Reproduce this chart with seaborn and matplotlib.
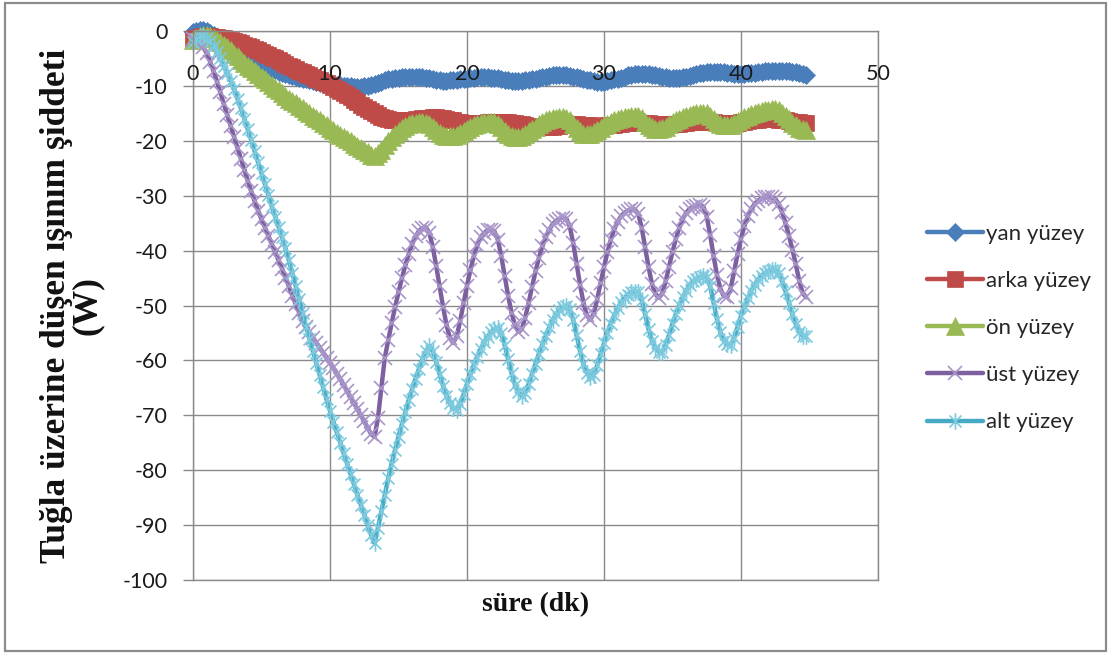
import numpy as np
import pandas as pd
import matplotlib
matplotlib.use("Agg")
import matplotlib.pyplot as plt
from matplotlib.path import Path
from matplotlib.patches import Rectangle
import seaborn as sns

# sampling step of the measurements (minutes)
ADIM = 0.25

seri_adlari = ["yan yüzey", "arka yüzey", "ön yüzey", "üst yüzey", "alt yüzey"]

yan_yuzey = [
    -0.2, 0.0, 0.2, 0.2, 0.0, -0.3, -0.7, -1.1,
    -1.5, -1.9, -2.3, -2.7, -3.1, -3.5, -3.9, -4.3,
    -4.7, -5.0, -5.4, -5.7, -6.0, -6.3, -6.6, -6.9,
    -7.1, -7.4, -7.6, -7.8, -8.0, -8.2, -8.4, -8.5,
    -8.7, -8.8, -9.0, -9.1, -9.3, -9.4, -9.5, -9.6,
    -9.7, -9.8, -9.9, -9.9, -10.0, -10.1, -10.1, -10.2,
    -10.2, -10.2, -10.1, -10.0, -9.8, -9.6, -9.4, -9.2,
    -9.0, -8.8, -8.7, -8.6, -8.5, -8.4, -8.3, -8.3,
    -8.3, -8.3, -8.4, -8.4, -8.5, -8.6, -8.8, -8.9,
    -9.0, -9.1, -9.1, -9.0, -9.0, -8.9, -8.8, -8.7,
    -8.7, -8.6, -8.5, -8.4, -8.4, -8.4, -8.4, -8.5,
    -8.5, -8.6, -8.8, -8.9, -9.0, -9.1, -9.1, -9.1,
    -9.1, -9.0, -8.9, -8.8, -8.7, -8.6, -8.4, -8.3,
    -8.2, -8.1, -8.0, -8.0, -8.0, -8.1, -8.2, -8.3,
    -8.4, -8.6, -8.7, -8.9, -9.0, -9.1, -9.2, -9.2,
    -9.2, -9.1, -9.0, -8.8, -8.7, -8.5, -8.3, -8.1,
    -8.0, -7.9, -7.8, -7.8, -7.8, -7.9, -8.0, -8.1,
    -8.2, -8.3, -8.4, -8.5, -8.6, -8.5, -8.5, -8.4,
    -8.3, -8.2, -8.0, -7.9, -7.7, -7.6, -7.5, -7.4,
    -7.4, -7.4, -7.5, -7.5, -7.6, -7.7, -7.8, -7.9,
    -7.9, -7.8, -7.7, -7.6, -7.6, -7.5, -7.4, -7.3,
    -7.2, -7.2, -7.2, -7.2, -7.2, -7.3, -7.3, -7.4,
    -7.5, -7.7, -7.8, -8.0,
]

arka_yuzey = [
    -1.5, -1.3, -1.1, -1.0, -1.0, -1.0, -1.1, -1.1,
    -1.2, -1.3, -1.5, -1.6, -1.8, -2.0, -2.2, -2.5,
    -2.8, -3.0, -3.3, -3.5, -3.8, -4.1, -4.4, -4.7,
    -5.0, -5.3, -5.6, -6.0, -6.3, -6.6, -6.9, -7.2,
    -7.5, -7.8, -8.1, -8.4, -8.7, -9.0, -9.3, -9.5,
    -9.8, -10.2, -10.5, -10.9, -11.3, -11.7, -12.1, -12.6,
    -13.0, -13.4, -13.8, -14.2, -14.6, -15.0, -15.3, -15.6,
    -15.8, -16.0, -16.2, -16.3, -16.3, -16.3, -16.3, -16.2,
    -16.2, -16.1, -16.0, -15.9, -15.8, -15.8, -15.7, -15.7,
    -15.8, -15.9, -16.0, -16.2, -16.3, -16.5, -16.6, -16.7,
    -16.8, -16.8, -16.8, -16.8, -16.8, -16.7, -16.6, -16.5,
    -16.5, -16.5, -16.5, -16.6, -16.6, -16.7, -16.8, -16.9,
    -17.0, -17.1, -17.3, -17.4, -17.5, -17.5, -17.5, -17.5,
    -17.5, -17.4, -17.3, -17.3, -17.2, -17.1, -17.1, -17.0,
    -17.0, -17.1, -17.1, -17.2, -17.2, -17.3, -17.3, -17.3,
    -17.3, -17.2, -17.2, -17.1, -17.0, -16.9, -16.8, -16.8,
    -16.7, -16.7, -16.7, -16.7, -16.8, -16.8, -16.9, -16.9,
    -17.0, -17.0, -17.0, -17.0, -17.0, -16.9, -16.9, -16.8,
    -16.7, -16.6, -16.6, -16.5, -16.5, -16.5, -16.5, -16.6,
    -16.6, -16.7, -16.7, -16.8, -16.8, -16.8, -16.7, -16.7,
    -16.6, -16.5, -16.4, -16.3, -16.3, -16.2, -16.1, -16.1,
    -16.1, -16.1, -16.1, -16.2, -16.2, -16.3, -16.4, -16.5,
    -16.5, -16.6, -16.7, -16.8,
]

on_yuzey = [
    -1.6, -1.2, -0.9, -0.7, -0.7, -0.9, -1.2, -1.6,
    -2.0, -2.5, -3.0, -3.5, -4.1, -4.6, -5.2, -5.8,
    -6.3, -6.8, -7.3, -7.8, -8.3, -8.8, -9.3, -9.8,
    -10.3, -10.8, -11.3, -11.8, -12.3, -12.7, -13.2, -13.6,
    -14.1, -14.5, -15.0, -15.4, -15.9, -16.3, -16.7, -17.2,
    -17.6, -18.0, -18.5, -18.9, -19.3, -19.7, -20.1, -20.5,
    -20.9, -21.3, -21.7, -22.1, -22.5, -22.7, -22.3, -21.6,
    -20.8, -20.0, -19.3, -18.7, -18.2, -17.7, -17.3, -17.0,
    -16.8, -16.7, -16.6, -16.6, -16.7, -17.0, -17.5, -18.0,
    -18.5, -18.9, -19.1, -19.2, -19.2, -19.0, -18.6, -18.2,
    -17.8, -17.4, -17.1, -16.9, -16.7, -16.6, -16.5, -16.5,
    -16.6, -16.9, -17.5, -18.2, -18.7, -19.1, -19.3, -19.3,
    -19.1, -18.7, -18.3, -17.8, -17.4, -17.0, -16.6, -16.3,
    -16.1, -15.9, -15.8, -15.7, -15.7, -15.8, -16.3, -17.0,
    -17.7, -18.3, -18.7, -18.8, -18.7, -18.4, -18.0, -17.6,
    -17.2, -16.9, -16.6, -16.3, -16.1, -15.9, -15.7, -15.6,
    -15.5, -15.4, -15.5, -15.9, -16.5, -17.1, -17.5, -17.8,
    -17.8, -17.7, -17.4, -17.0, -16.6, -16.3, -16.0, -15.7,
    -15.5, -15.3, -15.1, -15.0, -14.9, -14.9, -15.0, -15.5,
    -16.1, -16.6, -17.0, -17.2, -17.2, -17.1, -16.8, -16.4,
    -16.0, -15.7, -15.4, -15.1, -14.9, -14.7, -14.5, -14.4,
    -14.3, -14.2, -14.2, -14.4, -14.9, -15.5, -16.1, -16.7,
    -17.2, -17.6, -17.9, -18.0,
]

ust_yuzey = [
    -1.5, -1.7, -2.2, -3.0, -4.0, -5.6, -7.3, -9.2,
    -11.2, -13.3, -15.3, -17.3, -19.3, -21.3, -23.3, -25.3,
    -27.3, -29.2, -31.0, -32.7, -34.3, -35.8, -37.3, -38.8,
    -40.3, -41.8, -43.3, -44.9, -46.5, -48.2, -49.8, -51.3,
    -52.8, -53.9, -54.9, -55.9, -56.8, -57.7, -58.6, -59.5,
    -60.4, -61.4, -62.4, -63.4, -64.5, -65.6, -66.7, -67.8,
    -68.9, -70.0, -71.1, -72.3, -73.4, -73.9, -70.5, -65.0,
    -59.5, -56.3, -53.2, -50.3, -47.6, -45.0, -42.7, -40.6,
    -38.8, -37.4, -36.4, -35.9, -35.8, -36.8, -39.3, -42.8,
    -46.5, -50.2, -53.5, -55.9, -56.8, -55.6, -52.8, -49.6,
    -46.4, -43.5, -41.0, -39.0, -37.6, -36.8, -36.3, -36.2,
    -36.5, -38.0, -41.0, -44.6, -48.2, -51.3, -53.6, -54.8,
    -54.3, -52.2, -49.5, -46.6, -43.8, -41.3, -39.2, -37.5,
    -36.2, -35.2, -34.6, -34.2, -34.0, -34.2, -35.6, -38.6,
    -42.4, -46.2, -49.5, -51.8, -52.6, -51.5, -48.9, -45.9,
    -43.0, -40.3, -38.0, -36.1, -34.7, -33.7, -33.1, -32.7,
    -32.5, -32.5, -33.3, -35.8, -39.4, -43.0, -46.0, -47.9,
    -48.6, -47.8, -45.6, -42.9, -40.2, -37.8, -35.8, -34.2,
    -33.1, -32.4, -32.0, -31.8, -31.7, -32.0, -33.8, -37.2,
    -41.0, -44.5, -47.0, -48.3, -48.4, -46.8, -43.8, -40.6,
    -37.8, -35.5, -33.7, -32.4, -31.5, -30.9, -30.5, -30.3,
    -30.2, -30.3, -30.6, -31.5, -33.0, -35.0, -37.3, -39.8,
    -42.5, -45.5, -47.7, -48.5,
]

alt_yuzey = [
    -2.0, -1.5, -1.0, -0.9, -1.2, -1.8, -2.7, -3.8,
    -5.0, -6.3, -7.7, -9.1, -10.5, -12.3, -14.1, -16.0,
    -17.9, -19.9, -21.9, -23.9, -25.9, -27.9, -29.9, -31.9,
    -33.8, -35.7, -37.6, -39.6, -41.8, -44.1, -46.5, -48.9,
    -51.3, -53.9, -56.1, -58.3, -60.5, -62.7, -64.9, -67.1,
    -69.2, -71.2, -73.1, -75.0, -76.9, -78.8, -80.7, -82.6,
    -84.5, -86.3, -88.1, -89.9, -91.8, -93.3, -90.5, -87.5,
    -84.5, -81.5, -78.8, -76.3, -73.9, -71.6, -69.4, -67.2,
    -65.2, -63.3, -61.5, -59.8, -58.3, -57.4, -58.3, -60.3,
    -62.5, -64.6, -66.4, -67.8, -68.7, -69.0, -68.0, -66.2,
    -64.3, -62.5, -60.8, -59.3, -57.9, -56.7, -55.7, -54.9,
    -54.3, -54.1, -55.0, -57.2, -59.8, -62.3, -64.4, -65.8,
    -66.5, -65.9, -64.3, -62.5, -60.6, -58.8, -57.1, -55.5,
    -54.0, -52.7, -51.6, -50.8, -50.3, -50.1, -50.6, -52.6,
    -55.4, -58.3, -60.7, -62.3, -63.0, -62.6, -60.9, -58.9,
    -56.9, -55.0, -53.3, -51.8, -50.5, -49.4, -48.6, -48.0,
    -47.6, -47.5, -47.6, -49.0, -51.6, -54.3, -56.4, -57.8,
    -58.4, -58.5, -57.2, -55.3, -53.3, -51.5, -49.9, -48.5,
    -47.3, -46.3, -45.6, -45.1, -44.8, -44.6, -44.8, -46.5,
    -49.5, -52.5, -54.9, -56.4, -57.1, -57.2, -55.9, -53.9,
    -51.9, -50.1, -48.6, -47.3, -46.2, -45.3, -44.6, -44.1,
    -43.7, -43.5, -43.5, -44.0, -45.5, -47.4, -49.5, -51.6,
    -53.4, -54.8, -55.5, -55.6,
]

x_tikleri = [0, 10, 20, 30, 40, 50]
y_tikleri = [0, -10, -20, -30, -40, -50, -60, -70, -80, -90, -100]

# long-form table: one row per measurement
kayitlar = []
for ad, degerler in zip(seri_adlari, [yan_yuzey, arka_yuzey, on_yuzey, ust_yuzey, alt_yuzey]):
    for i, v in enumerate(degerler):
        kayitlar.append({"süre": i * ADIM, "değer": v, "seri": ad})
df = pd.DataFrame(kayitlar)

sns.set_style("white")
plt.rcParams["font.family"] = ["Lato", "DejaVu Sans"]
plt.rcParams["axes.unicode_minus"] = False

# asterisk marker: vertical bar plus two diagonals
yildiz = Path(
    [(0, -1), (0, 1), (-0.72, -0.72), (0.72, 0.72), (-0.72, 0.72), (0.72, -0.72)],
    [Path.MOVETO, Path.LINETO, Path.MOVETO, Path.LINETO, Path.MOVETO, Path.LINETO],
)

stiller = {
    "yan yüzey": dict(color="#4A7EBB", marker="D", markersize=9,
                      markerfacecolor="#4A7EBB", markeredgecolor="#4A7EBB", markeredgewidth=0.5),
    "arka yüzey": dict(color="#BE4B48", marker="s", markersize=12,
                       markerfacecolor="#BE4B48", markeredgecolor="#BE4B48", markeredgewidth=0.5),
    "ön yüzey": dict(color="#98B954", marker="^", markersize=13,
                     markerfacecolor="#98B954", markeredgecolor="#98B954", markeredgewidth=0.5),
    "üst yüzey": dict(color="#7D60A0", marker="x", markersize=10.5,
                      markerfacecolor="none", markeredgecolor="#A895C9", markeredgewidth=1.2),
    "alt yüzey": dict(color="#46AAC5", marker=yildiz, markersize=12,
                      markerfacecolor="none", markeredgecolor="#7DC9DE", markeredgewidth=1.2),
}

fig = plt.figure(figsize=(11.11, 6.55), dpi=100)
ax = fig.add_axes([0.17372, 0.11450, 0.61656, 0.83817])

for ad in seri_adlari:
    sns.lineplot(data=df[df["seri"] == ad], x="süre", y="değer", ax=ax,
                 linewidth=3.2, label=ad, clip_on=False, errorbar=None,
                 **stiller[ad])

ax.set_xlim(0, 50)
ax.set_ylim(-100, 0)
ax.set_xticks(x_tikleri)
ax.set_yticks(y_tikleri)
ax.set_yticklabels([str(t) for t in y_tikleri])

izgara = "#8A8A8A"
ax.grid(True, color=izgara, linewidth=1.0)
ax.set_axisbelow(True)
for s in ax.spines.values():
    s.set_color(izgara)
    s.set_linewidth(1.0)

ax.tick_params(axis="x", top=False, bottom=False, labeltop=False, labelbottom=False, length=0)
ax.tick_params(axis="y", left=True, length=7, width=1.0, color=izgara, pad=11.5,
               labelsize=15.5, labelcolor="#1a1a1a")

# the horizontal axis crosses at y = 0: its labels sit just under the top edge,
# drawn above the series
ust_eksen = ax.secondary_xaxis("top")
ust_eksen.set_xticks(x_tikleri)
ust_eksen.set_xticklabels([str(t) for t in x_tikleri])
ust_eksen.tick_params(axis="x", length=0, pad=-38, labelsize=15.5, labelcolor="#1a1a1a")
ust_eksen.spines["top"].set_visible(False)
ust_eksen.set_zorder(10)

serif = ["Liberation Serif", "DejaVu Serif"]
ax.set_xlabel("süre (dk)", fontsize=20, fontweight="bold", family=serif, color="#111111")
ax.set_ylabel("Tuğla üzerine düşen ışınım şiddeti\n(W)", fontsize=25.5, fontweight="bold",
              family=serif, color="#111111", linespacing=0.9)
ax.xaxis.set_label_position("bottom")
ax.xaxis.label.set_va("center")
ax.yaxis.label.set_va("center")
ax.xaxis.set_label_coords(0.5, -0.0455)
ax.yaxis.set_label_coords(-0.177, 0.5)

tutamaclar, etiketler = ax.get_legend_handles_labels()
if ax.get_legend() is not None:
    ax.get_legend().remove()
fig.legend(tutamaclar, etiketler, loc="center left", bbox_to_anchor=(0.834, 0.499),
           frameon=False, fontsize=16, handlelength=2.55, handletextpad=0.12,
           labelspacing=1.22, borderpad=0, borderaxespad=0)

# light grey frame around the whole chart
fig.patches.append(Rectangle((0.0045, 0.006), 0.991, 0.99, transform=fig.transFigure,
                             fill=False, edgecolor="#8C8C8C", linewidth=1.6))

fig.savefig("out.png", dpi=100)
